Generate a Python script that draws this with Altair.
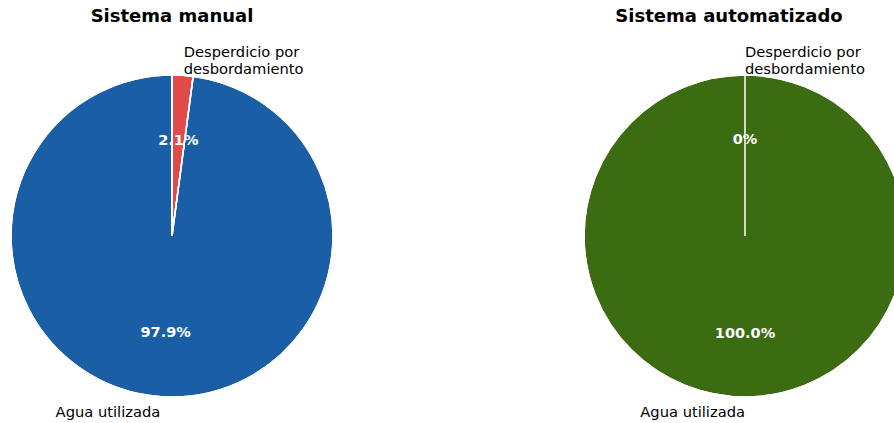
import altair as alt
import pandas as pd
import math

categorias = ["Desperdicio por desbordamiento", "Agua utilizada"]
etiquetas = ["Desperdicio por\ndesbordamiento", "Agua utilizada"]
manual_vals = [2.1, 97.9]
auto_vals = [0.0, 100.0]
manual_pct = ["2.1%", "97.9%"]
auto_pct = ["0%", "100.0%"]
manual_colores = ["#e24a4a", "#1a5fa6"]
auto_colores = ["#e24a4a", "#3b6c12"]
titulos = ["Sistema manual", "Sistema automatizado"]

FONT = "DejaVu Sans"
R = 161
theta_scale = alt.Scale(domain=[0, 1], range=[0, 2 * math.pi])
CY = 206


def pie(titulo, vals, pcts, colores, width, cx):
    df = pd.DataFrame({
        "cat": categorias,
        "etiqueta": etiquetas,
        "valor": vals,
        "pct": pcts,
        "orden": [0, 1],
    })
    base = (
        alt.Chart(df)
        .transform_joinaggregate(total="sum(valor)")
        .transform_window(cum="sum(valor)", sort=[alt.SortField("orden")], frame=[None, 0])
        .transform_calculate(ini="(datum.cum - datum.valor) / datum.total")
        .transform_calculate(fin="datum.cum / datum.total")
        .transform_calculate(mid="(datum.ini + datum.fin) / 2")
    )
    color = alt.Color("cat:N", scale=alt.Scale(domain=categorias, range=colores), legend=None)
    pos = dict(x=alt.value(cx), y=alt.value(CY))
    arcs = base.mark_arc(radius=R, stroke="white", strokeWidth=1.5, clip=True).encode(
        theta=alt.Theta("ini:Q", scale=theta_scale),
        theta2="fin:Q",
        color=color,
        order=alt.Order("orden:Q"),
        **pos,
    )
    edges = base.mark_arc(radius=R, stroke="white", strokeWidth=1.5, fillOpacity=0,
                          clip=True).encode(
        theta=alt.Theta("ini:Q", scale=theta_scale),
        theta2="fin:Q",
        color=color,
        **pos,
    )
    pct = base.mark_text(radius=R * 0.6, fontSize=14.5, fontWeight="bold", color="white",
                         font=FONT, align="center", baseline="middle", dy=1).encode(
        theta=alt.Theta("mid:Q", scale=theta_scale),
        text="pct:N",
        **pos,
    )
    lab_waste = base.transform_filter("datum.orden == 0").mark_text(
        radius=R * 1.1, fontSize=14.7, font=FONT, color="black", align="left",
        baseline="middle", lineBreak="\n", lineHeight=17, dy=-6).encode(
        theta=alt.Theta("mid:Q", scale=theta_scale),
        text="etiqueta:N",
        **pos,
    )
    lab_water = base.transform_filter("datum.orden == 1").mark_text(
        radius=R * 1.1, fontSize=14.7, font=FONT, color="black", align="right",
        baseline="middle").encode(
        theta=alt.Theta("mid:Q", scale=theta_scale),
        text="etiqueta:N",
        **pos,
    )
    return alt.layer(arcs, edges, pct, lab_waste, lab_water).properties(
        width=width,
        height=386,
        title=alt.TitleParams(titulo, fontSize=18, fontWeight="bold", font=FONT,
                              anchor="middle", color="black", offset=4),
    )


chart = alt.hconcat(
    pie(titulos[0], manual_vals, manual_pct, manual_colores, 344, 172),
    pie(titulos[1], auto_vals, auto_pct, auto_colores, 330, 181),
    spacing=220,
).resolve_scale(color="independent").properties(
    padding={"left": 0, "top": 8, "right": 0, "bottom": 0},
).configure_view(stroke=None)

chart.save("out.html", embed_options={"renderer": "svg", "actions": False})
